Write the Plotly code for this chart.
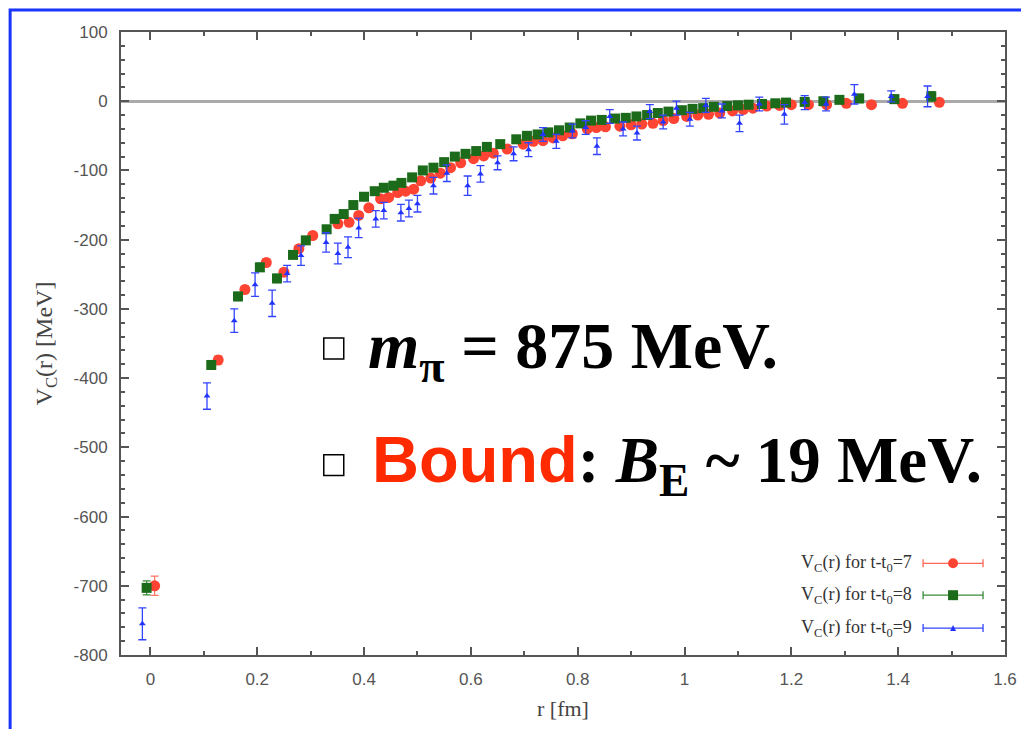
import plotly.graph_objects as go

# ---------------- data ----------------
r7_x = [0.008, 0.127, 0.177, 0.217, 0.250, 0.278, 0.304, 0.351, 0.372, 0.390, 0.409, 0.431, 0.446, 0.463,
        0.478, 0.493, 0.506, 0.525, 0.543, 0.562, 0.581, 0.605, 0.624, 0.642, 0.668, 0.698, 0.717, 0.735,
        0.754, 0.772, 0.790, 0.818, 0.835, 0.852, 0.879, 0.900, 0.920, 0.941, 0.960, 0.980, 1.004, 1.025,
        1.045, 1.066, 1.090, 1.110, 1.128, 1.154, 1.178, 1.200, 1.232, 1.266, 1.303, 1.350, 1.408, 1.477]
r7_y = [-700, -374, -272, -233, -247, -213, -194, -177, -175, -165, -154, -141, -139, -132,
        -130, -127, -115, -111, -104, -96, -89, -83, -79, -75, -69, -62, -58, -57,
        -53, -50, -47, -40, -38, -37, -36, -34, -33, -32, -28, -25, -22, -20,
        -19, -17, -14, -12, -10, -7, -6, -5, -5, -5, -3, -5, -3, -1.5]
r7_err = [14, 6, 5, 5, 5, 4, 4, 4, 4, 4, 4, 4, 4, 4,
          4, 4, 4, 4, 4, 4, 4, 4, 4, 4, 4, 4, 4, 4,
          4, 4, 4, 4, 4, 4, 4, 4, 4, 4, 4, 4, 4, 4,
          4, 4, 4, 4, 4, 4, 4, 4, 4, 4, 4, 4, 4, 4]

r8_x = [-0.007, 0.114, 0.164, 0.205, 0.237, 0.267, 0.291, 0.330, 0.345, 0.362, 0.380, 0.400, 0.420, 0.437,
        0.455, 0.470, 0.490, 0.510, 0.530, 0.550, 0.570, 0.590, 0.610, 0.630, 0.655, 0.685, 0.705, 0.725,
        0.745, 0.765, 0.785, 0.805, 0.825, 0.845, 0.870, 0.890, 0.910, 0.930, 0.950, 0.970, 0.995, 1.015,
        1.035, 1.055, 1.080, 1.100, 1.120, 1.145, 1.170, 1.190, 1.225, 1.260, 1.290, 1.327, 1.393, 1.462]
r8_y = [-703, -381, -282, -240, -256, -222, -201, -185, -170, -163, -150, -138, -130, -125,
        -122, -118, -110, -100, -96, -88, -80, -76, -72, -66, -62, -55, -50, -48,
        -45, -42, -38, -32, -28, -27, -25, -24, -22, -20, -17, -15, -13, -11,
        -10, -8, -7, -6, -5, -4, -3, -2, -1, 0, 2, 4, 3, 7]
r8_err = [10, 6, 6, 6, 6, 5, 5, 5, 5, 5, 5, 5, 5, 5,
          5, 5, 5, 5, 5, 5, 5, 5, 5, 5, 5, 5, 5, 5,
          5, 5, 5, 5, 5, 5, 5, 5, 5, 5, 5, 5, 5, 5,
          5, 5, 5, 5, 5, 5, 5, 5, 5, 5, 5, 6, 6, 7]

r9_x = [-0.015, 0.106, 0.157, 0.196, 0.228, 0.256, 0.282, 0.329, 0.351, 0.370, 0.390, 0.422, 0.437, 0.469,
        0.484, 0.500, 0.530, 0.555, 0.594, 0.618, 0.650, 0.680, 0.708, 0.735, 0.760, 0.790, 0.815, 0.836,
        0.860, 0.885, 0.911, 0.935, 0.960, 0.985, 1.010, 1.040, 1.070, 1.103, 1.140, 1.187, 1.225, 1.265,
        1.318, 1.387, 1.455]
r9_y = [-755, -426, -317, -265, -292, -249, -223, -204, -220, -211, -183, -170, -158, -161,
        -155, -148, -122, -104, -122, -105, -89, -76, -70, -48, -58, -43, -38, -65,
        -22, -40, -46, -15, -30, -10, -26, -6, -14, -32, -4, -19, -2, -4,
        10, 7, 7]
r9_err = [23, 19, 17, 17, 19, 12, 14, 14, 15, 15, 14, 12, 12, 12,
          12, 12, 12, 12, 14, 12, 10, 10, 10, 10, 10, 10, 10, 12,
          10, 10, 10, 10, 10, 10, 10, 10, 10, 12, 10, 14, 10, 10,
          14, 8, 15]

legend_labels = ["V<sub>C</sub>(r) for t-t<sub>0</sub>=7",
                 "V<sub>C</sub>(r) for t-t<sub>0</sub>=8",
                 "V<sub>C</sub>(r) for t-t<sub>0</sub>=9"]
x_ticks = [0, 0.2, 0.4, 0.6, 0.8, 1, 1.2, 1.4, 1.6]
y_ticks = [100, 0, -100, -200, -300, -400, -500, -600, -700, -800]

# ---------------- layout helpers ----------------
OFF = 8                      # default page body margin
W, H = 1029 - OFF, 729 - OFF
L, R, T, B = 121 - OFF, 1006 - OFF, 32 - OFF, 657 - OFF


def px(x):                   # screen pixel -> paper fraction
    return (x - OFF - L) / (R - L)


def py(y):
    return (B - (y - OFF)) / (B - T)


RED, GREEN, BLUE = "#ff4433", "#1b6b1b", "#2233ff"

fig = go.Figure()

fig.add_trace(go.Scatter(
    x=r7_x, y=r7_y, mode="markers", name=legend_labels[0], showlegend=False,
    marker=dict(symbol="circle", size=11, color=RED),
    error_y=dict(type="data", array=r7_err, color="#ff7766", thickness=1.2, width=4)))
fig.add_trace(go.Scatter(
    x=r8_x, y=r8_y, mode="markers", name=legend_labels[1], showlegend=False,
    marker=dict(symbol="square", size=10, color=GREEN),
    error_y=dict(type="data", array=r8_err, color="#3a8a3a", thickness=1.2, width=4)))
fig.add_trace(go.Scatter(
    x=r9_x, y=r9_y, mode="markers", name=legend_labels[2], showlegend=False,
    marker=dict(symbol="triangle-up", size=6, color=BLUE),
    error_y=dict(type="data", array=r9_err, color="#3344ff", thickness=1.3, width=4)))

shapes = []
# outer blue frame
shapes.append(dict(type="rect", xref="paper", yref="paper", layer="below",
                   x0=px(10), x1=px(1045), y0=py(745), y1=py(10),
                   line=dict(color="#1a35ff", width=3), fillcolor="white"))

# custom gnuplot-style legend
leg_y = [565, 597, 630]
leg_cols = [("#ff6655", RED), ("#3a8a3a", GREEN), ("#3344ff", BLUE)]
annotations = []
for i, (lab, yy) in enumerate(zip(legend_labels, leg_y)):
    lc, mc = leg_cols[i]
    annotations.append(dict(x=px(915), y=py(yy), xref="paper", yref="paper", text=lab,
                            showarrow=False, xanchor="right", yanchor="middle",
                            font=dict(family="Liberation Serif", size=18, color="#333333")))
    shapes.append(dict(type="line", xref="paper", yref="paper", x0=px(924), x1=px(984),
                       y0=py(yy), y1=py(yy), line=dict(color=lc, width=1.3)))
    for xe in (924, 984):
        shapes.append(dict(type="line", xref="paper", yref="paper", x0=px(xe), x1=px(xe),
                           y0=py(yy - 4), y1=py(yy + 4), line=dict(color=lc, width=1.3)))
    if i == 0:
        shapes.append(dict(type="circle", xref="paper", yref="paper", x0=px(949), x1=px(959),
                           y0=py(yy + 5), y1=py(yy - 5), fillcolor=mc, line=dict(width=0)))
    elif i == 1:
        shapes.append(dict(type="rect", xref="paper", yref="paper", x0=px(949), x1=px(959),
                           y0=py(yy + 5), y1=py(yy - 5), fillcolor=mc, line=dict(width=0)))
    else:
        shapes.append(dict(type="path", xref="paper", yref="paper",
                           path=f"M {px(951)} {py(yy+3)} L {px(957)} {py(yy+3)} L {px(954)} {py(yy-3)} Z",
                           fillcolor=mc, line=dict(width=0)))

# checkboxes for the overlay text
for (cy0, cy1) in [(339, 360), (456, 477)]:
    shapes.append(dict(type="rect", xref="paper", yref="paper", x0=px(324), x1=px(344),
                       y0=py(cy1), y1=py(cy0), line=dict(color="black", width=1.5),
                       fillcolor="white"))

annotations.append(dict(
    x=px(366), y=py(352), xref="paper", yref="paper", showarrow=False,
    xanchor="left", yanchor="middle",
    text="<b><i>m</i><sub>π</sub> = 875 MeV.</b>",
    font=dict(family="Liberation Serif", size=66, color="black")))
annotations.append(dict(
    x=px(370), y=py(466), xref="paper", yref="paper", showarrow=False,
    xanchor="left", yanchor="middle",
    text="<b><span style='font-family:Liberation Sans;color:#ff2a00'>Bound</span>: "
         "<i>B</i><sub>E</sub> ~ 19 MeV.</b>",
    font=dict(family="Liberation Serif", size=65, color="black")))

axis_common = dict(showline=True, linecolor="#555555", linewidth=2, mirror="ticks",
                   ticks="inside", tickcolor="#555555", tickwidth=1.5, ticklen=8,
                   showgrid=False,
                   tickfont=dict(family="Liberation Sans", size=17, color="#555555"))

fig.update_layout(
    width=W, height=H,
    margin=dict(l=L, r=W - R, t=T, b=H - B),
    paper_bgcolor="#f7fcf4", plot_bgcolor="white",
    shapes=shapes, annotations=annotations, showlegend=False,
    xaxis=dict(range=[-0.055, 1.6], tickvals=x_ticks, ticktext=[str(v) for v in x_ticks],
               zeroline=False, ticklabelstandoff=8,
               minor=dict(ticks="inside", ticklen=4, dtick=0.1, tickcolor="#555555"),
               title=dict(text="r [fm]", standoff=12,
                          font=dict(family="Liberation Serif", size=22, color="#444444")),
               **axis_common),
    yaxis=dict(range=[-800, 100], tickvals=y_ticks, ticktext=[str(v) for v in y_ticks],
               zeroline=True, zerolinecolor="#aaaaaa", zerolinewidth=3, ticklabelstandoff=8,
               minor=dict(ticks="inside", ticklen=4, dtick=20, tickcolor="#555555"),
               title=dict(text="V<sub>C</sub>(r) [MeV]", standoff=14,
                          font=dict(family="Liberation Serif", size=24, color="#444444")),
               **axis_common),
)

fig.write_html("out.html")
